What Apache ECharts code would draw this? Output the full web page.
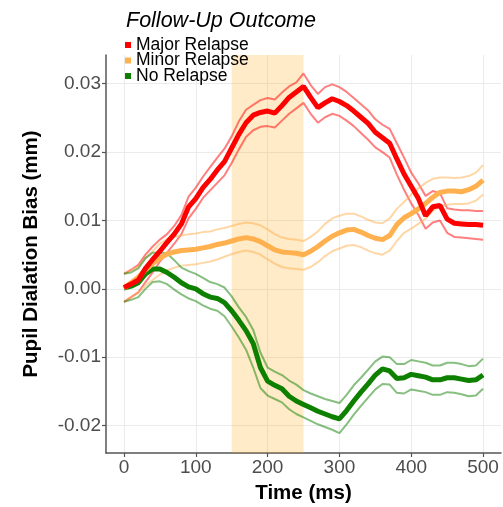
<!DOCTYPE html>
<html>
<head>
<meta charset="utf-8">
<script src="https://cdn.jsdelivr.net/npm/echarts@6/dist/echarts.min.js"></script>
<style>
html,body{margin:0;padding:0;background:#fff;}
#chart{width:503px;height:507px;}
</style>
</head>
<body>
<div id="chart"></div>
<script>
const times = [0,10,20,30,40,50,60,70,80,90,100,110,120,130,140,150,160,170,180,190,200,210,220,230,240,250,260,270,280,290,300,310,320,330,340,350,360,370,380,390,400,410,420,430,440,450,460,470,480,490,500];

const majorMean = [0.0002,0.0007,0.0013,0.0030,0.0043,0.0055,0.0068,0.0080,0.0095,0.0120,0.0132,0.0148,0.0160,0.0174,0.0186,0.0206,0.0226,0.0243,0.0254,0.0258,0.0260,0.0257,0.0268,0.0280,0.0288,0.0296,0.0280,0.0265,0.0272,0.0278,0.0274,0.0268,0.0260,0.0251,0.0242,0.0229,0.0221,0.0213,0.0190,0.0168,0.0150,0.0132,0.0107,0.0120,0.0122,0.0102,0.0096,0.0095,0.0094,0.0094,0.0093];
const majorUpper = [0.0022,0.0028,0.0035,0.0050,0.0062,0.0072,0.0080,0.0092,0.0108,0.0135,0.0148,0.0164,0.0178,0.0192,0.0205,0.0223,0.0245,0.0262,0.0269,0.0276,0.0279,0.0277,0.0287,0.0296,0.0302,0.0315,0.0298,0.0285,0.0295,0.0299,0.0295,0.0288,0.0279,0.0270,0.0261,0.0248,0.0240,0.0234,0.0213,0.0192,0.0170,0.0154,0.0136,0.0143,0.0140,0.0118,0.0116,0.0115,0.0115,0.0114,0.0114];
const majorLower = [-0.0019,-0.0012,-0.0005,0.0010,0.0024,0.0040,0.0053,0.0066,0.0080,0.0103,0.0117,0.0133,0.0144,0.0155,0.0166,0.0184,0.0204,0.0222,0.0232,0.0237,0.0238,0.0236,0.0246,0.0256,0.0264,0.0272,0.0256,0.0243,0.0251,0.0256,0.0253,0.0246,0.0238,0.0228,0.0218,0.0207,0.0200,0.0192,0.0167,0.0145,0.0125,0.0108,0.0088,0.0097,0.0100,0.0082,0.0076,0.0075,0.0074,0.0073,0.0072];

const minorMean = [0.0001,0.0009,0.0017,0.0028,0.0037,0.0045,0.0051,0.0054,0.0056,0.0057,0.0058,0.0060,0.0062,0.0065,0.0067,0.0070,0.0073,0.0075,0.0073,0.0069,0.0063,0.0057,0.0054,0.0053,0.0052,0.0050,0.0055,0.0062,0.0070,0.0077,0.0082,0.0086,0.0087,0.0083,0.0078,0.0074,0.0072,0.0078,0.0094,0.0104,0.0110,0.0117,0.0125,0.0134,0.0141,0.0143,0.0143,0.0142,0.0145,0.0150,0.0159];
const minorUpper = [0.0022,0.0027,0.0032,0.0045,0.0055,0.0066,0.0073,0.0076,0.0078,0.0080,0.0081,0.0083,0.0084,0.0087,0.0089,0.0092,0.0095,0.0097,0.0096,0.0093,0.0087,0.0080,0.0075,0.0073,0.0072,0.0070,0.0076,0.0084,0.0095,0.0103,0.0107,0.0110,0.0110,0.0106,0.0101,0.0097,0.0096,0.0103,0.0117,0.0127,0.0138,0.0147,0.0155,0.0161,0.0163,0.0163,0.0162,0.0163,0.0165,0.0170,0.0181];
const minorLower = [-0.0019,-0.0012,-0.0006,0.0005,0.0013,0.0021,0.0027,0.0031,0.0034,0.0035,0.0036,0.0038,0.0040,0.0043,0.0047,0.0051,0.0054,0.0056,0.0054,0.0050,0.0043,0.0037,0.0032,0.0030,0.0029,0.0028,0.0032,0.0039,0.0048,0.0055,0.0059,0.0063,0.0064,0.0061,0.0056,0.0052,0.0050,0.0056,0.0070,0.0082,0.0088,0.0095,0.0103,0.0114,0.0121,0.0123,0.0124,0.0124,0.0125,0.0129,0.0138];

const noMean = [0.0001,0.0004,0.0009,0.0022,0.0029,0.0029,0.0024,0.0017,0.0009,0.0003,0.0000,-0.0007,-0.0012,-0.0014,-0.0020,-0.0032,-0.0046,-0.0061,-0.0080,-0.0115,-0.0135,-0.0141,-0.0146,-0.0157,-0.0164,-0.0169,-0.0174,-0.0179,-0.0183,-0.0187,-0.0190,-0.0178,-0.0164,-0.0151,-0.0139,-0.0126,-0.0117,-0.0120,-0.0131,-0.0130,-0.0125,-0.0127,-0.0129,-0.0133,-0.0133,-0.0130,-0.0130,-0.0132,-0.0134,-0.0133,-0.0126];
const noUpper = [0.0022,0.0024,0.0030,0.0045,0.0053,0.0053,0.0052,0.0042,0.0031,0.0026,0.0022,0.0016,0.0010,0.0007,0.0002,-0.0011,-0.0027,-0.0041,-0.0060,-0.0093,-0.0115,-0.0121,-0.0126,-0.0134,-0.0140,-0.0148,-0.0153,-0.0157,-0.0161,-0.0164,-0.0167,-0.0155,-0.0141,-0.0130,-0.0118,-0.0106,-0.0099,-0.0100,-0.0110,-0.0110,-0.0104,-0.0106,-0.0108,-0.0112,-0.0112,-0.0108,-0.0108,-0.0110,-0.0113,-0.0112,-0.0102];
const noLower = [-0.0019,-0.0016,-0.0012,0.0000,0.0010,0.0011,0.0007,-0.0001,-0.0008,-0.0014,-0.0018,-0.0024,-0.0029,-0.0032,-0.0040,-0.0055,-0.0071,-0.0089,-0.0115,-0.0145,-0.0156,-0.0161,-0.0166,-0.0176,-0.0183,-0.0188,-0.0193,-0.0198,-0.0202,-0.0206,-0.0211,-0.0198,-0.0184,-0.0171,-0.0159,-0.0147,-0.0139,-0.0140,-0.0152,-0.0153,-0.0147,-0.0149,-0.0151,-0.0155,-0.0155,-0.0151,-0.0152,-0.0154,-0.0157,-0.0156,-0.0146];

const xTicks = [0,100,200,300,400,500];
const yTicks = [-0.02,-0.01,0.00,0.01,0.02,0.03];
const highlightWindow = [150,250];

const groups = [
  {name:'Major Relapse', color:'#FF0000', mean:majorMean, upper:majorUpper, lower:majorLower},
  {name:'Minor Relapse', color:'#FFB04F', mean:minorMean, upper:minorUpper, lower:minorLower},
  {name:'No Relapse', color:'#0E8000', mean:noMean, upper:noUpper, lower:noLower}
];

function pairs(vals){ return times.map((t,i)=>[t, vals[i]]); }

const FONT = '"Liberation Sans", Arial, sans-serif';
const series = [];
series.push({
  type:'line', name:'_hl', data:[], z:1, silent:true,
  markArea:{silent:true, itemStyle:{color:'rgba(255,165,0,0.22)'}, data:[[{xAxis:highlightWindow[0]},{xAxis:highlightWindow[1]}]]}
});
groups.forEach(g=>{
  ['upper','lower'].forEach(k=>{
    series.push({type:'line', name:g.name+' '+k, data:pairs(g[k]), showSymbol:false, symbol:'none', z:2,
      lineStyle:{color:g.color, width:2, opacity:0.5}, itemStyle:{color:g.color}, silent:true});
  });
});
groups.slice().reverse().forEach(g=>{
  series.push({type:'line', name:g.name, data:pairs(g.mean), showSymbol:false, symbol:'none', z:3,
    lineStyle:{color:g.color, width:5}, itemStyle:{color:g.color}, silent:true});
});

const chart = echarts.init(document.getElementById('chart'), null, {renderer:'canvas'});
chart.setOption({
  animation:false,
  backgroundColor:'#ffffff',
  title:{text:'Follow-Up Outcome', left:126, top:10, padding:0,
    textStyle:{fontFamily:FONT, fontStyle:'italic', fontWeight:'normal', fontSize:21.5, color:'#000'}},
  legend:{orient:'vertical', left:125, top:36, padding:0, itemGap:-2.5, itemWidth:6, itemHeight:6, itemTextGap:3,
    icon:'rect', data:groups.map(g=>g.name), selectedMode:false,
    textStyle:{fontFamily:FONT, fontSize:17.5, color:'#000', lineHeight:15}},
  grid:{left:106, right:2, top:55, bottom:54, containLabel:false, outerBoundsMode:'none'},
  xAxis:{type:'value', min:-25, max:525,
    name:'Time (ms)', nameLocation:'middle', nameGap:30,
    nameTextStyle:{fontFamily:FONT, fontWeight:'bold', fontSize:20.5, color:'#000'},
    axisLine:{show:true, onZero:false, lineStyle:{color:'#555', width:1.5}},
    axisTick:{show:true, length:4, lineStyle:{color:'#555', width:1.2}, customValues:xTicks},
    axisLabel:{customValues:xTicks, fontFamily:FONT, fontSize:19, color:'#4D4D4D', margin:5},
    splitLine:{show:true, lineStyle:{color:'#EBEBEB', width:1}}},
  yAxis:{type:'value', min:-0.024, max:0.0342,
    name:'Pupil Dialation Bias (mm)', nameLocation:'middle', nameGap:64,
    nameTextStyle:{fontFamily:FONT, fontWeight:'bold', fontSize:20.5, color:'#000'},
    axisLine:{show:true, onZero:false, lineStyle:{color:'#555', width:1.5}},
    axisTick:{show:true, length:4, lineStyle:{color:'#555', width:1.2}, customValues:yTicks},
    axisLabel:{customValues:yTicks, fontFamily:FONT, fontSize:19, color:'#4D4D4D', margin:5,
      formatter:v=>v.toFixed(2)},
    splitLine:{show:true, lineStyle:{color:'#EBEBEB', width:1}}},
  series:series
});
</script>
</body>
</html>
